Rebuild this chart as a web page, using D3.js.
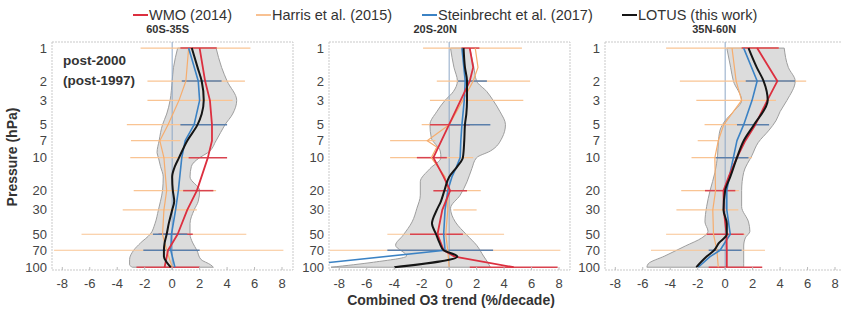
<!DOCTYPE html>
<html><head><meta charset="utf-8">
<script src="https://cdn.jsdelivr.net/npm/d3@7"></script>
<style>body{margin:0;background:#fff}svg{display:block;font-family:"Liberation Sans",Arial,sans-serif}</style>
</head><body><svg id="c" width="841" height="309"></svg>
<script>
// ---------- data ----------
const regions = ["60S-35S", "20S-20N", "35N-60N"];
const seriesNames = ["WMO (2014)", "Harris et al. (2015)", "Steinbrecht et al. (2017)", "LOTUS (this work)"];
const xTicks = [-8, -6, -4, -2, 0, 2, 4, 6, 8];
const yTicks = [1, 2, 3, 5, 7, 10, 20, 30, 50, 70, 100];

const wmoPress = [[1,2,3,5,7,10,20,30,50,70,100],[1,1.5,2,10,15,20,30,50,70,80,100],[1,2,3,5,7,10,15,20,30,50,70,100]];
const wmoTrend = [[2.0,2.4,2.75,2.9,2.9,2.6,1.8,1.1,0.4,-0.3,-0.55],[1.5,1.75,1.5,-1.15,-0.4,0.07,-0.5,-0.85,-0.4,0.4,4.7],[2.33,3.8,3.07,2.2,1.47,0.86,0.25,-0.12,-0.1,0.1,0.12,0.12]];

const harrisPress = [[1,2,3,5,7,10,20,30,50,70,100],[1,1.5,2,3,5,7,8,10,15,20,30,50,70,100],[1,2,3,5,7,10,20,30,50,70,100]];
const harrisTrend = [[1.2,1.0,0.5,-0.3,-0.9,-0.6,-0.4,-0.6,-0.7,-0.4,0.0],[1.9,2.1,1.75,1.0,0.0,-1.6,-0.9,-1.3,-0.3,-0.1,-0.1,-0.25,-0.1,0.0],[0.5,0.8,1.2,-0.1,-0.5,-0.75,-0.7,-0.9,-0.85,-0.6,-0.5]];

const steinPress = [[1,2,3,5,7,10,20,30,50,70,100],[1,2,3,5,7,10,12,15,20,30,50,70,100],[1,2,3,5,7,10,15,20,30,50,70,80,100]];
const steinTrend = [[1.2,1.9,2.0,1.6,0.95,0.7,0.45,0.25,-0.05,-0.1,0.2],[0.93,1.17,1.1,0.93,0.85,0.8,0.55,0.2,-0.1,-0.3,-0.4,-0.3,-12],[1.35,2.33,1.96,1.35,0.86,0.6,0.3,0.12,0.12,0.37,-0.37,-1.1,-1.96]];

const lotusPress = [[1,1.5,2,3,4,5,7,10,12,15,20,25,30,40,50,60,70,80,90,100],[1,1.5,2,3,4,5,7,10,12,15,20,25,30,40,50,60,70,80,100],[1,1.5,2,3,5,7,10,15,20,30,40,50,60,70,80,100]];
const lotusTrend = [[1.43,1.85,2.15,2.3,2.15,1.85,1.1,0.5,0.2,0.0,0.05,0.15,0.0,-0.25,-0.4,-0.55,-0.6,-0.6,-0.4,-0.1],[1.05,1.15,1.3,1.3,1.25,1.15,1.1,1.0,0.6,0.0,-0.35,-0.6,-0.9,-1.25,-0.95,-0.7,-0.4,0.6,-4.0],[1.7,2.3,2.8,3.1,2.1,1.35,0.86,0.37,0.0,-0.12,0.12,0.12,-0.45,-0.8,-1.35,-2.1]];

const bandPress = [[1,1.5,2,3,4,5,7,9,10,12,15,20,25,30,40,50,60,70,85,95,100],[1,1.5,2,2.5,3,3.8,5,6.6,8.7,10,12.6,16.6,22,29,38.6,51,63,79,90,100],[1,1.5,2,3,3.8,4.6,5.6,7.3,9.5,13.6,20,28,38.6,47,54,64,79,93,100]];
const bandLow = [[0.4,0.1,0.0,-0.15,-0.4,-0.7,-0.95,-1.1,-1.0,-0.85,-0.65,-0.7,-0.85,-1.0,-1.25,-1.6,-2.3,-2.8,-3.1,-3.1,-2.9],[0.1,0.35,0.6,0.3,-0.3,-0.9,-1.4,-1.3,-0.65,-0.6,-1.4,-2.1,-2.1,-2.35,-2.7,-3.35,-3.9,-3.1,-5.5,-8.6],[0.12,0.4,0.6,1.2,0.6,0.0,-0.37,-0.5,-0.55,-0.74,-1.1,-1.35,-1.47,-1.25,-1.7,-2.9,-4.4,-5.6,-5.7]];
const bandHigh = [[3.2,3.6,4.0,4.7,4.4,3.85,3.2,2.6,2.0,1.4,1.3,2.0,1.9,1.6,1.3,1.3,1.5,1.8,2.1,2.8,3.0],[1.5,1.8,2.0,2.75,3.2,3.7,4.1,3.85,3.0,2.0,1.65,1.3,0.8,0.1,0.45,1.3,2.0,2.5,2.8,3.0],[4.3,4.6,5.1,4.5,4.0,3.7,3.2,2.4,1.96,1.35,1.2,1.2,1.7,1.8,1.47,1.35,1.35,1.35,1.35]];

// error bars: [pressure, low, high]
const harrisBars = [
  [[1,-2.3,5.7],[2,-1.8,5.3],[3,-1.8,4.4],[5,-3.3,2.0],[7,-3.0,0.6],[10,-3.05,2.0],[20,-2.8,3.2],[30,-3.6,1.8],[50,-6.6,5.4],[70,-8.6,8.1]],
  [[1,-1.9,5.3],[2,-0.9,5.9],[3,-1.4,5.4],[5,-2.0,1.8],[7,-4.3,-1.0],[10,-4.3,1.75],[20,-1.0,2.3],[30,0.3,2.0],[50,-4.5,4.0],[70,-8.7,8.1]],
  [[1,-4.3,3.9],[2,-3.3,5.9],[3,-2.1,3.7],[5,-1.5,1.7],[7,-2.0,-0.5],[10,-2.45,1.96],[20,-3.2,1.0],[30,-3.55,0.96],[50,-4.3,1.47],[70,-5.4,2.9]]];
const wmoBars = [
  [[1,0.6,3.25],[10,1.2,4.0],[20,0.8,3.0],[50,-1.0,1.5],[100,-2.6,2.0]],
  [[1,0.9,2.2],[5,-1.4,1.5],[10,-2.35,-0.17],[20,-1.15,1.3],[50,-2.85,1.0],[100,1.5,7.9]],
  [[1,1.2,3.9],[20,-1.47,0.74],[50,-1.35,1.35],[100,-1.2,2.7]]];
const steinBars = [
  [[2,0.7,3.6],[5,0.6,4.0],[50,-1.4,1.1],[70,-2.1,2.0]],
  [[2,0.65,2.75],[5,0.0,3.0],[70,-4.5,3.2]],
  [[2,1.5,5.1],[5,0.86,3.2],[10,-0.7,1.7],[70,-1.2,1.2]]];

// ---------- layout ----------
const colors = {wmo:"#dc2f3f", harris:"#f6ad6e", stein:"#3b82c4", lotus:"#151515"};
const barColors = {wmo:"#d9434f", harris:"#f9c493", stein:"#5a7fab"};
const panelLeft = [52, 329, 605];
const panelW = 241;
const titleOffset = [-4.5, -14, -11];
const plotTop = 42, plotBottom = 270;

const svg = d3.select("#c");
const y = d3.scaleLog().domain([0.88, 106]).range([plotTop, plotBottom]);

regions.forEach((reg, i) => {
  const x = d3.scaleLinear().domain([-8.75, 8.8]).range([panelLeft[i], panelLeft[i] + panelW]);
  const g = svg.append("g");
  const clipId = "clip" + i;
  svg.append("clipPath").attr("id", clipId).append("rect")
    .attr("x", panelLeft[i]).attr("y", plotTop).attr("width", panelW).attr("height", plotBottom - plotTop);

  // frame
  g.append("rect").attr("x", panelLeft[i]).attr("y", plotTop).attr("width", panelW).attr("height", plotBottom - plotTop)
    .attr("fill", "none").attr("stroke", "#c9c9c9").attr("stroke-dasharray", "2,1");

  const plot = g.append("g").attr("clip-path", `url(#${clipId})`);

  // band
  const bandData = bandPress[i].map((p, k) => ({p, lo: bandLow[i][k], hi: bandHigh[i][k]}));
  plot.append("path").datum(bandData)
    .attr("d", d3.area().y(d => y(d.p)).x0(d => x(d.lo)).x1(d => x(d.hi)).curve(d3.curveMonotoneY))
    .attr("fill", "#d6d6d6").attr("fill-opacity", 0.85).attr("stroke", "#9e9e9e").attr("stroke-width", 1);

  // zero line
  plot.append("line").attr("x1", x(0)).attr("x2", x(0)).attr("y1", plotTop).attr("y2", plotBottom)
    .attr("stroke", "#8ea7c6").attr("stroke-width", 1);

  // error bars
  const drawBars = (bars, color, w) => plot.selectAll(null).data(bars).enter().append("line")
    .attr("x1", d => x(d[1])).attr("x2", d => x(d[2])).attr("y1", d => y(d[0])).attr("y2", d => y(d[0]))
    .attr("stroke", color).attr("stroke-width", w);
  drawBars(harrisBars[i], barColors.harris, 1.2);
  drawBars(wmoBars[i], barColors.wmo, 1.5);
  drawBars(steinBars[i], barColors.stein, 1.5);

  // profiles
  const prof = (press, trend, color, w, curve) => plot.append("path")
    .datum(press.map((p, k) => [trend[k], p]))
    .attr("d", d3.line().x(d => x(d[0])).y(d => y(d[1])).curve(curve))
    .attr("fill", "none").attr("stroke", color).attr("stroke-width", w).attr("stroke-linejoin", "round");
  prof(harrisPress[i], harrisTrend[i], colors.harris, 1.2, d3.curveLinear);
  prof(steinPress[i], steinTrend[i], colors.stein, 1.6, d3.curveLinear);
  prof(wmoPress[i], wmoTrend[i], colors.wmo, 1.8, d3.curveLinear);
  prof(lotusPress[i], lotusTrend[i], colors.lotus, 2.0, d3.curveMonotoneY);

  // y tick labels
  g.selectAll(null).data(yTicks).enter().append("text")
    .attr("x", panelLeft[i] - 5).attr("y", d => y(d)).attr("dy", "0.35em")
    .attr("text-anchor", "end").attr("font-size", 13).attr("fill", "#444").text(d => d);
  // x tick labels
  g.selectAll(null).data(xTicks).enter().append("text")
    .attr("x", d => x(d)).attr("y", 287.5).attr("text-anchor", "middle")
    .attr("font-size", 13).attr("fill", "#444").text(d => d);
  // small ticks on bottom axis
  g.selectAll(null).data(xTicks).enter().append("line")
    .attr("x1", d => x(d)).attr("x2", d => x(d)).attr("y1", plotBottom).attr("y2", plotBottom - 3)
    .attr("stroke", "#bbb");

  // title
  g.append("text").attr("x", x(0) + titleOffset[i]).attr("y", 33).attr("text-anchor", "middle")
    .attr("font-size", 11).attr("font-weight", "bold").attr("fill", "#333").text(reg);
});

// annotations
svg.append("text").attr("x", 63).attr("y", 65).attr("font-size", 13.5).attr("font-weight", "bold").attr("fill", "#333").text("post-2000");
svg.append("text").attr("x", 63).attr("y", 85).attr("font-size", 13.5).attr("font-weight", "bold").attr("fill", "#333").text("(post-1997)");

// axis labels
svg.append("text").attr("transform", "translate(17,157) rotate(-90)").attr("text-anchor", "middle")
  .attr("font-size", 14).attr("font-weight", "bold").attr("fill", "#333").text("Pressure (hPa)");
svg.append("text").attr("x", 451).attr("y", 304.5).attr("text-anchor", "middle")
  .attr("font-size", 14).attr("font-weight", "bold").attr("fill", "#333").text("Combined O3 trend (%/decade)");

// legend
const legX = [133, 256, 422, 622];
const legColors = [colors.wmo, colors.harris, colors.stein, colors.lotus];
const leg = svg.append("g");
seriesNames.forEach((n, k) => {
  leg.append("line").attr("x1", legX[k]).attr("x2", legX[k] + 15).attr("y1", 15).attr("y2", 15)
    .attr("stroke", legColors[k]).attr("stroke-width", k === 1 ? 1.5 : 2);
  leg.append("text").attr("x", legX[k] + 16).attr("y", 20).attr("font-size", 14.5).attr("fill", "#333").text(n);
});
</script></body></html>
